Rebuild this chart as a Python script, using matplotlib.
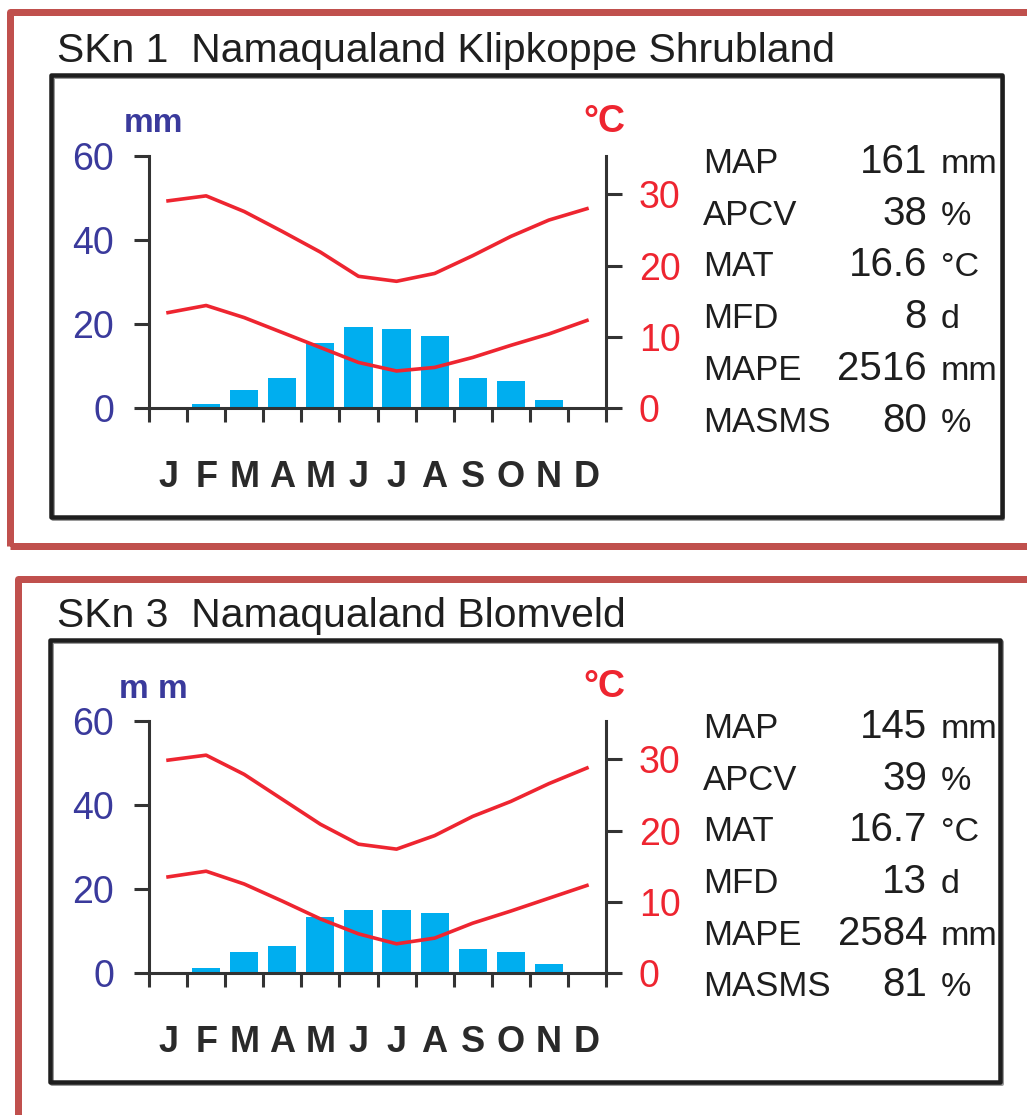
import matplotlib
matplotlib.use("Agg")
import matplotlib.pyplot as plt
from matplotlib.patches import Rectangle

W, H = 1027, 1115

months = ["J", "F", "M", "A", "M", "J", "J", "A", "S", "O", "N", "D"]

# SKn 1
title_skn1 = "SKn 1  Namaqualand Klipkoppe Shrubland"
rain_skn1 = [0, 1.0, 4.3, 7.2, 15.5, 19.4, 18.7, 17.2, 7.2, 6.5, 1.9, 0]
tmax_skn1 = [29.1, 29.8, 27.6, 24.8, 21.9, 18.5, 17.8, 18.9, 21.4, 24.1, 26.4, 28.0]
tmin_skn1 = [13.4, 14.4, 12.7, 10.6, 8.5, 6.4, 5.2, 5.7, 7.1, 8.8, 10.4, 12.3]
vals_skn1 = ["161", "38", "16.6", "8", "2516", "80"]

# SKn 3
title_skn3 = "SKn 3  Namaqualand Blomveld"
rain_skn3 = [0, 1.2, 5.0, 6.5, 13.4, 15.1, 15.1, 14.4, 5.7, 5.0, 2.1, 0]
tmax_skn3 = [29.9, 30.6, 27.9, 24.4, 20.9, 18.1, 17.4, 19.3, 22.0, 24.1, 26.6, 28.8]
tmin_skn3 = [13.5, 14.3, 12.5, 10.1, 7.6, 5.5, 4.1, 4.9, 7.0, 8.7, 10.5, 12.3]
vals_skn3 = ["145", "39", "16.7", "13", "2584", "81"]

stat_labels = ["MAP", "APCV", "MAT", "MFD", "MAPE", "MASMS"]
stat_units = ["mm", "%", "°C", "d", "mm", "%"]

BLUE_TXT = "#3a3a9c"
RED = "#ee2530"
BAR = "#00aeef"
AXC = "#333333"

plt.rcParams["font.family"] = ["Liberation Sans", "DejaVu Sans"]


def fx(x):
    return x / W


def fy(y):
    return 1 - y / H


def pt(p):
    # pixels -> points at 100 dpi
    return p * 0.72


fig = plt.figure(figsize=(W / 100, H / 100), dpi=100)


def frame(x0, y0, x1, y1, color, lw, zorder=0):
    r = Rectangle((fx(x0), fy(y1)), fx(x1) - fx(x0), fy(y0) - fy(y1),
                  transform=fig.transFigure, fill=False, edgecolor=color,
                  linewidth=pt(lw), joinstyle="round", zorder=zorder)
    fig.add_artist(r)


def draw_panel(top, title, rain, tmax, tmin, vals, mm_label):
    d = top
    # axes geometry in pixels
    ax_l, ax_r = 149, 606
    ax_b, ax_t = d + 396, d + 144
    ax = fig.add_axes([fx(ax_l), fy(ax_b), (ax_r - ax_l) / W, (ax_b - ax_t) / H])
    x = [i + 0.5 for i in range(12)]
    ax.bar(x, rain, width=0.74, color=BAR, zorder=2)
    ax.set_xlim(0, 12)
    ax.set_ylim(0, 60)
    ax.set_yticks([0, 20, 40, 60])
    ax.set_xticks(range(13))
    ax.set_xticklabels([])
    for s in ["top", "right"]:
        ax.spines[s].set_visible(False)
    for s in ["left", "bottom"]:
        ax.spines[s].set_color(AXC)
        ax.spines[s].set_linewidth(2.2)
    ax.tick_params(axis="y", direction="out", length=pt(15), width=2.2,
                   color=AXC, labelsize=27, labelcolor=BLUE_TXT, pad=pt(20))
    ax.tick_params(axis="x", direction="out", length=pt(14), width=2.2,
                   color=AXC)
    for i, m in enumerate(months):
        ax.annotate(m, xy=(i + 0.5, 0), xycoords=("data", "axes fraction"),
                    xytext=(0, -pt(79)), textcoords="offset points",
                    ha="center", va="baseline", fontsize=26,
                    fontweight="bold", color="#2a2a2a")
    ax.annotate(mm_label, xy=(0, 1), xycoords="axes fraction",
                xytext=(pt(4), pt(32)), textcoords="offset points",
                ha="center", va="center", fontsize=24, fontweight="bold",
                color=BLUE_TXT)

    ax2 = ax.twinx()
    ax2.set_ylim(0, 35.4)
    ax2.plot(x, tmax, color=RED, lw=2.6, solid_joinstyle="round")
    ax2.plot(x, tmin, color=RED, lw=2.6, solid_joinstyle="round")
    ax2.set_yticks([0, 10, 20, 30])
    for s in ["top", "left", "bottom"]:
        ax2.spines[s].set_visible(False)
    ax2.spines["right"].set_color(AXC)
    ax2.spines["right"].set_linewidth(2.2)
    ax2.tick_params(axis="y", direction="out", length=pt(16), width=2.2,
                    color=AXC, labelsize=27, labelcolor=RED, pad=pt(17))
    ax2.annotate("°C", xy=(1, 1), xycoords="axes fraction",
                 xytext=(-pt(2), pt(34)), textcoords="offset points",
                 ha="center", va="center", fontsize=27, fontweight="bold",
                 color=RED)

    # title
    fig.text(fx(57), fy(d + 50), title, fontsize=29.4, va="baseline",
             color="#1f1f1f")

    # stats table
    for i, (lab, val, unit) in enumerate(zip(stat_labels, vals, stat_units)):
        y = d + 161 + i * 51.7
        fig.text(fx(703), fy(y), lab, fontsize=25, va="baseline",
                 color="#1e1e1e")
        fig.text(fx(927), fy(y), val, fontsize=29, va="baseline", ha="right",
                 color="#1e1e1e")
        fig.text(fx(941), fy(y), unit, fontsize=24.5, va="baseline",
                 color="#1e1e1e")


# outer red borders and black boxes
frame(10, 12, 1045, 545.5, "#c0504d", 7)
frame(18, 578.5, 1045, 1140, "#c0504d", 7)
frame(52.5, 76.5, 1003.5, 518.5, "#9a9a9a", 4)
frame(50.5, 74.5, 1001.5, 516.5, "#1e1e1e", 4.5)
frame(52, 641.5, 1002, 1084, "#9a9a9a", 4)
frame(50, 639.5, 1000, 1082, "#1e1e1e", 4.5)

draw_panel(12, title_skn1, rain_skn1, tmax_skn1, tmin_skn1, vals_skn1, "mm")
draw_panel(577, title_skn3, rain_skn3, tmax_skn3, tmin_skn3, vals_skn3, "m m")

fig.savefig("out.png", dpi=100)
